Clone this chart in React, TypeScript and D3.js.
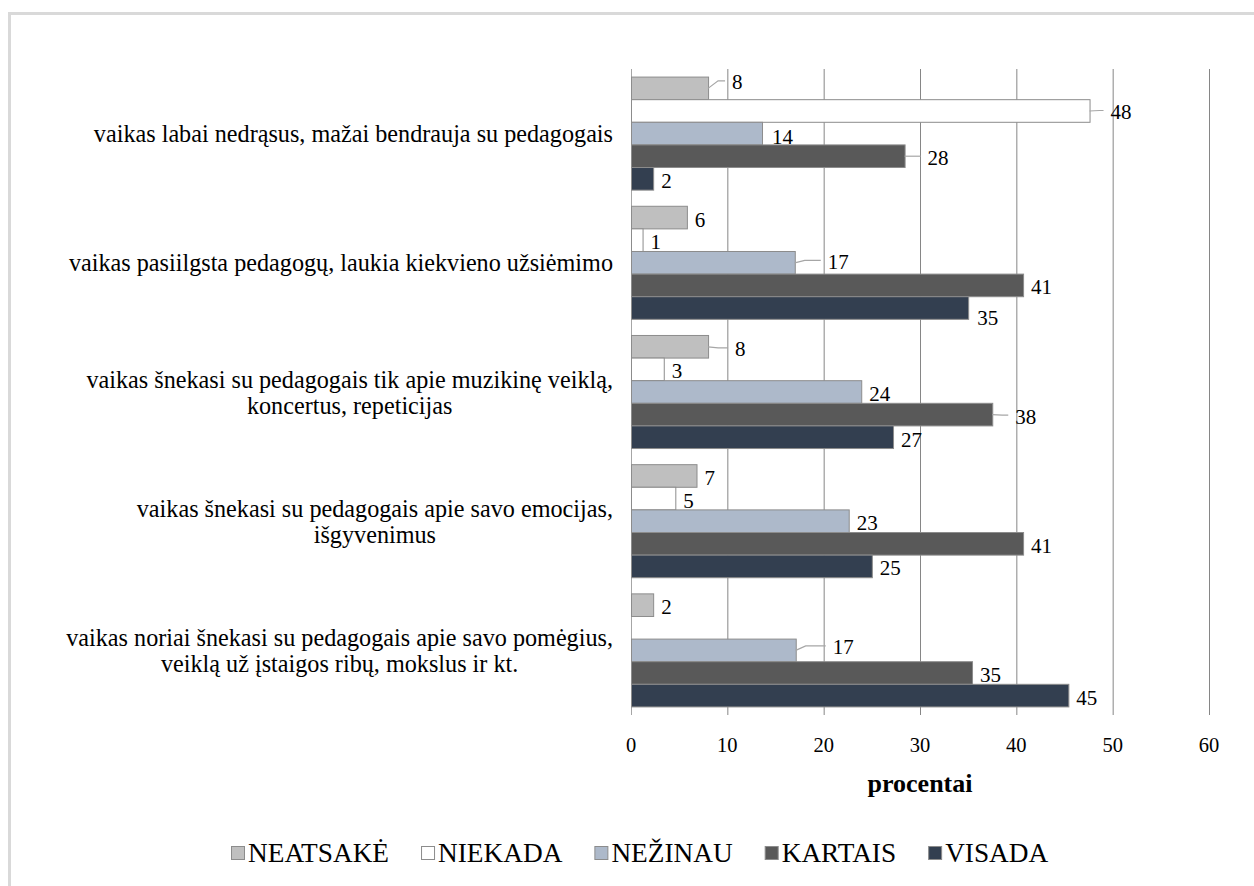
import { useRef, useEffect } from "react";
import * as d3 from "d3";

// categories top to bottom (multi-line labels split into lines)
const categories = [
  ["vaikas labai nedrąsus, mažai bendrauja su pedagogais"],
  ["vaikas pasiilgsta pedagogų, laukia kiekvieno užsiėmimo"],
  ["vaikas šnekasi su pedagogais tik apie muzikinę veiklą,", "koncertus, repeticijas"],
  ["vaikas šnekasi su pedagogais apie savo emocijas,", "išgyvenimus"],
  ["vaikas noriai šnekasi su pedagogais apie savo pomėgius,", "veiklą už įstaigos ribų, mokslus ir kt."],
];

const seriesNames = ["NEATSAKĖ", "NIEKADA", "NEŽINAU", "KARTAIS", "VISADA"];
const seriesColors = ["#bfbfbf", "#ffffff", "#adb9ca", "#595959", "#333f50"];

// percent per category, one array per series
const neatsake = [8.0, 5.8, 8.0, 6.8, 2.3];
const niekada = [47.6, 1.2, 3.4, 4.6, 0];
const nezinau = [13.6, 17.0, 23.9, 22.6, 17.1];
const kartais = [28.4, 40.7, 37.5, 40.7, 35.4];
const visada = [2.3, 35.0, 27.2, 25.0, 45.4];

const xTicks = [0, 10, 20, 30, 40, 50, 60];
const axisTitle = "procentai";

const FONT = "'Liberation Serif', 'Times New Roman', Times, serif";

// label nudges where Excel moved a label off its default spot: "cat-series" -> [dx, dy, leader]
const labelNudges: Record<string, [number, number, boolean]> = {
  "0-0": [24, -6, true],
  "0-1": [21, 1, true],
  "0-2": [10, 3, false],
  "0-3": [23, 1.5, true],
  "1-2": [33, -1, true],
  "1-4": [9, 10, false],
  "2-0": [27, 2.5, true],
  "2-3": [23, 2, true],
  "2-4": [8, 3, false],
  "4-2": [37, -3, true],
};

export default function App() {
  const svgRef = useRef<SVGSVGElement>(null);

  useEffect(() => {
    const svg = d3.select(svgRef.current);
    svg.selectAll("*").remove();
    svg.attr("font-family", FONT);

    const values = [neatsake, niekada, nezinau, kartais, visada];
    const plotTop = 69;
    const plotBottom = 715;

    const x = d3.scaleLinear().domain([0, 60]).range([631, 1209]);
    const y = d3
      .scaleBand<number>()
      .domain(d3.range(categories.length))
      .range([plotTop, plotBottom])
      .paddingInner(0.125)
      .paddingOuter(0.0625);
    const ys = d3
      .scaleBand<number>()
      .domain(d3.range(seriesNames.length))
      .range([0, y.bandwidth()]);

    // outer chart border
    svg
      .append("rect")
      .attr("x", 9.5)
      .attr("y", 13.5)
      .attr("width", 1300)
      .attr("height", 1000)
      .attr("fill", "none")
      .attr("stroke", "#d9d9d9")
      .attr("stroke-width", 3);

    // vertical gridlines
    svg
      .selectAll("line.grid")
      .data(xTicks)
      .join("line")
      .attr("class", "grid")
      .attr("x1", (d) => x(d) + 0.5)
      .attr("x2", (d) => x(d) + 0.5)
      .attr("y1", plotTop)
      .attr("y2", plotBottom)
      .attr("stroke", (d) => (d === 0 ? "#a6a6a6" : "#868686"))
      .attr("stroke-width", 1);

    // bars
    const cells = categories.flatMap((_, ci) =>
      seriesNames.map((_, si) => ({ ci, si, v: values[si][ci] }))
    );
    svg
      .selectAll("rect.bar")
      .data(cells.filter((d) => d.v > 0))
      .join("rect")
      .attr("class", "bar")
      .attr("x", x(0) + 0.5)
      .attr("y", (d) => (y(d.ci) as number) + (ys(d.si) as number))
      .attr("width", (d) => x(d.v) - x(0))
      .attr("height", ys.bandwidth())
      .attr("fill", (d) => seriesColors[d.si])
      .attr("stroke", "#8c8c8c")
      .attr("stroke-width", 1);

    // data labels with leader lines
    const fmt = d3.format(".0f");
    cells
      .filter((d) => d.v > 0)
      .forEach((d) => {
        const nudge = labelNudges[`${d.ci}-${d.si}`] || [8, 2, false];
        const barEnd = x(d.v);
        const barMid = (y(d.ci) as number) + (ys(d.si) as number) + ys.bandwidth() / 2;
        const lx = barEnd + nudge[0];
        const ly = barMid + nudge[1];
        if (nudge[2]) {
          const lineY = ly - 1.5;
          svg
            .append("path")
            .attr("d", `M${barEnd},${barMid}L${barEnd + 10},${lineY}L${lx - 7},${lineY}`)
            .attr("fill", "none")
            .attr("stroke", "#a6a6a6")
            .attr("stroke-width", 1.2);
        }
        svg
          .append("text")
          .attr("x", lx)
          .attr("y", ly)
          .attr("dominant-baseline", "central")
          .attr("font-family", FONT)
          .attr("font-size", 21)
          .attr("fill", "#000")
          .text(fmt(d.v));
      });

    // tick labels
    svg
      .selectAll("text.tick")
      .data(xTicks)
      .join("text")
      .attr("class", "tick")
      .attr("x", (d) => x(d))
      .attr("y", 745)
      .attr("text-anchor", "middle")
      .attr("dominant-baseline", "central")
      .attr("font-family", FONT)
      .attr("font-size", 20.5)
      .attr("fill", "#000")
      .text((d) => d);

    svg
      .append("text")
      .attr("x", (x(0) + x(60)) / 2)
      .attr("y", 783)
      .attr("text-anchor", "middle")
      .attr("dominant-baseline", "central")
      .attr("font-family", FONT)
      .attr("font-size", 26)
      .attr("font-weight", "bold")
      .attr("fill", "#000")
      .text(axisTitle);

    // category labels: block right-aligned, lines centered on each other
    const labelRight = 613;
    const lineGap = 26;
    categories.forEach((lines, ci) => {
      const g = svg.append("g");
      const texts = lines.map((line, li) =>
        g
          .append("text")
          .attr("y", (y(ci) as number) + y.bandwidth() / 2 + (li - (lines.length - 1) / 2) * lineGap)
          .attr("text-anchor", "middle")
          .attr("dominant-baseline", "central")
          .attr("font-family", FONT)
          .attr("font-size", 24.2)
          .attr("fill", "#000")
          .text(line)
      );
      const widths = texts.map((t) => (t.node() as SVGTextElement).getComputedTextLength());
      const maxW = d3.max(widths) || 0;
      texts.forEach((t) => t.attr("x", labelRight - maxW / 2));
    });

    // legend
    const legendY = 853;
    let cursor = 231;
    seriesNames.forEach((name, si) => {
      svg
        .append("rect")
        .attr("x", cursor + 0.5)
        .attr("y", legendY - 6.5)
        .attr("width", 13)
        .attr("height", 13)
        .attr("fill", seriesColors[si])
        .attr("stroke", "#8c8c8c")
        .attr("stroke-width", 1);
      const t = svg
        .append("text")
        .attr("x", cursor + 17)
        .attr("y", legendY)
        .attr("dominant-baseline", "central")
        .attr("font-family", FONT)
        .attr("font-size", 27.3)
        .attr("fill", "#000")
        .text(name);
      const w = (t.node() as SVGTextElement).getComputedTextLength();
      cursor += 17 + w + 32;
    });
  }, []);

  return (
    <svg
      ref={svgRef}
      width={1254}
      height={886}
      style={{ position: "absolute", left: 0, top: 0, background: "#fff" }}
    />
  );
}
